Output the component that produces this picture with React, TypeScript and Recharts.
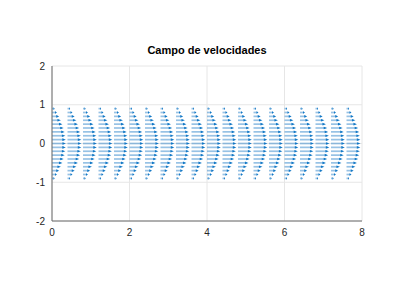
import React from "react";
import { ScatterChart, Scatter, XAxis, YAxis, CartesianGrid, ReferenceLine } from "recharts";

const TITLE = "Campo de velocidades";
const X_TICKS = [0, 2, 4, 6, 8];
const Y_TICKS = [-2, -1, 0, 1, 2];
const X_POSITIONS = [0, 0.4, 0.8, 1.2, 1.6, 2, 2.4, 2.8, 3.2, 3.6, 4, 4.4, 4.8, 5.2, 5.6, 6, 6.4, 6.8, 7.2, 7.6];
const Y_POSITIONS = [-0.9, -0.8, -0.7, -0.6, -0.5, -0.4, -0.3, -0.2, -0.1, 0, 0.1, 0.2, 0.3, 0.4, 0.5, 0.6, 0.7, 0.8, 0.9];
const ROW_SPEED = [0.19, 0.36, 0.51, 0.64, 0.75, 0.84, 0.91, 0.96, 0.99, 1, 0.99, 0.96, 0.91, 0.84, 0.75, 0.64, 0.51, 0.36, 0.19];

const ARROW_SCALE = 0.36;

const arrows = X_POSITIONS.flatMap((x) =>
  Y_POSITIONS.map((y, i) => ({ x, y, u: ROW_SPEED[i] }))
);

const ArrowShape = (props: any) => {
  const { x1, y1, x2, y2 } = props;
  if ([x1, y1, x2, y2].some((v) => typeof v !== "number" || isNaN(v))) return <g />;
  const len = x2 - x1;
  const hl = Math.min(3.5, len * 0.4);
  const hw = 1.3;
  return (
    <g>
      <line x1={x1} y1={y1} x2={x2 - hl * 0.5} y2={y2} stroke="#2f86cc" strokeOpacity={0.5} strokeWidth={1.7} />
      <path d={`M${x2},${y2} L${x2 - hl},${y2 - hw} L${x2 - hl},${y2 + hw} Z`} fill="#1479c6" />
    </g>
  );
};

export default function App() {
  const font = "'Liberation Sans', Arial, Helvetica, sans-serif";
  return (
    <div style={{ position: "absolute", left: 0, top: 0, width: 400, height: 298, background: "#fff" }}>
      <div
        style={{
          position: "absolute",
          left: 52,
          width: 310,
          top: 44.5,
          textAlign: "center",
          fontFamily: font,
          fontWeight: "bold",
          fontSize: 11,
          lineHeight: "11px",
          color: "#000",
        }}
      >
        {TITLE}
      </div>
      <ScatterChart width={400} height={298} margin={{ top: 66, right: 38, bottom: 47, left: 22 }}>
        <CartesianGrid stroke="#e6e6e6" strokeWidth={1} />
        <XAxis
          type="number"
          dataKey="x"
          domain={[0, 8]}
          ticks={X_TICKS}
          allowDataOverflow
          height={30}
          tickSize={0}
          tickMargin={8}
          tickLine={false}
          axisLine={{ stroke: "#6b6b6b" }}
          tick={{ fontSize: 10, fill: "#262626", fontFamily: font }}
        />
        <YAxis
          type="number"
          dataKey="y"
          domain={[-2, 2]}
          ticks={Y_TICKS}
          allowDataOverflow
          width={30}
          tickSize={0}
          tickMargin={7}
          tickLine={false}
          axisLine={{ stroke: "#6b6b6b" }}
          tick={{ fontSize: 10, fill: "#262626", fontFamily: font }}
        />
        <Scatter data={arrows} isAnimationActive={false} shape={() => <g />} />
        {arrows.map((a, i) => (
          <ReferenceLine
            key={i}
            segment={[
              { x: a.x, y: a.y },
              { x: a.x + a.u * ARROW_SCALE, y: a.y },
            ]}
            shape={ArrowShape}
            ifOverflow="visible"
          />
        ))}
      </ScatterChart>
    </div>
  );
}
